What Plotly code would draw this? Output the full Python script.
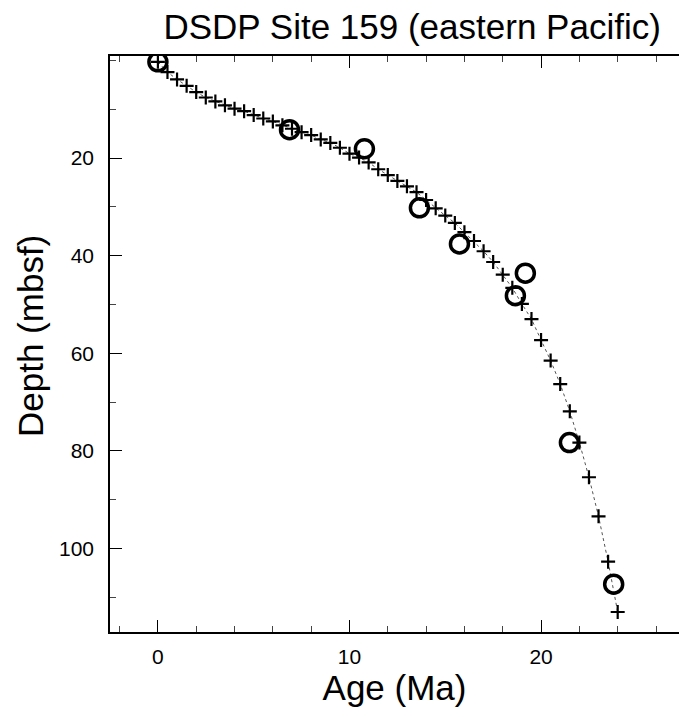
import plotly.graph_objects as go

# Age-depth model points (crosses)
model_age = [0.0, 0.5, 1.0, 1.5, 2.0, 2.5, 3.0, 3.5, 4.0, 4.5, 5.0, 5.5, 6.0, 6.5,
             7.0, 7.5, 8.0, 8.5, 9.0, 9.5, 10.0, 10.5, 11.0, 11.5, 12.0, 12.5,
             13.0, 13.5, 14.0, 14.5, 15.0, 15.5, 16.0, 16.5, 17.0, 17.5, 18.0,
             18.5, 19.0, 19.5, 20.0, 20.5, 21.0, 21.5, 22.0, 22.5, 23.0, 23.5, 24.0]
model_depth = [0.3, 2.4, 3.9, 5.2, 6.5, 7.6, 8.4, 9.2, 9.9, 10.4, 11.2, 11.9, 12.5, 13.3,
               14.0, 14.7, 15.3, 16.2, 16.9, 17.9, 19.1, 19.9, 20.9, 22.3, 23.5, 24.7,
               25.8, 27.0, 28.6, 30.3, 31.8, 33.3, 35.2, 37.0, 39.1, 41.3, 43.9,
               46.6, 49.9, 53.0, 57.3, 61.5, 66.3, 71.9, 78.3, 85.4, 93.4, 102.7, 113.0]

# Datums (open circles)
datum_age = [0.0, 6.87, 10.78, 13.65, 15.74, 18.66, 19.18, 21.48, 23.79]
datum_depth = [0.3, 14.2, 18.1, 30.2, 37.6, 48.2, 43.6, 78.3, 107.3]

x_ticks = [0, 10, 20]
y_ticks = [20, 40, 60, 80, 100]
y_minor = [0, 10, 30, 50, 70, 90, 110]

FONT = "Liberation Sans, Arial, Helvetica, sans-serif"

fig = go.Figure()
fig.add_trace(go.Scatter(x=model_age, y=model_depth, mode="lines",
                         line=dict(color="#555555", width=1, dash="3px,3px"),
                         hoverinfo="skip", showlegend=False))
fig.add_trace(go.Scatter(x=model_age, y=model_depth, mode="markers",
                         marker=dict(symbol="cross-thin", size=10,
                                     line=dict(color="black", width=2.2)),
                         showlegend=False))
fig.add_trace(go.Scatter(x=datum_age, y=datum_depth, mode="markers",
                         marker=dict(symbol="circle-open", size=18,
                                     color="black",
                                     line=dict(color="black", width=3.5)),
                         showlegend=False))

fig.update_layout(
    width=679, height=717,
    margin=dict(l=110, r=0, t=56, b=85),
    paper_bgcolor="white", plot_bgcolor="white",
    font=dict(family=FONT, color="black", size=21),
    title=dict(text="DSDP Site 159 (eastern Pacific)", x=0.607, xref="container",
               xanchor="center", y=0.963, yref="container", yanchor="middle",
               font=dict(size=35, family=FONT, color="black")),
    annotations=[dict(text="Depth (mbsf)", textangle=-90, showarrow=False,
                      xref="paper", yref="paper",
                      x=(30 - 110) / 569, y=(632 - 336) / 576,
                      xanchor="center", yanchor="middle",
                      font=dict(size=35, family=FONT, color="black"))],
)
fig.update_xaxes(
    range=[-2.5, 27.2], showgrid=False, zeroline=False,
    showline=True, linecolor="black", linewidth=1.5, mirror="ticks",
    ticks="inside", ticklen=12, tickwidth=1.2, tickcolor="black",
    tickmode="array", tickvals=x_ticks, ticktext=[str(v) for v in x_ticks],
    tickfont=dict(size=21), ticklabelstandoff=5,
    minor=dict(dtick=2, tick0=0, ticklen=6, tickwidth=1, tickcolor="#444444", ticks="inside"),
    title=dict(text="Age (Ma)", font=dict(size=35), standoff=4),
)
fig.update_yaxes(
    range=[117.1, -0.9], showgrid=False, zeroline=False,
    showline=True, linecolor="black", linewidth=1.5, mirror=False,
    ticks="inside", ticklen=12, tickwidth=1.2, tickcolor="black",
    tickmode="array", tickvals=y_ticks, ticktext=[str(v) for v in y_ticks],
    tickfont=dict(size=21), ticklabelstandoff=10,
    minor=dict(tickmode="array", tickvals=y_minor, ticklen=6, tickwidth=1,
               tickcolor="#444444", ticks="inside"),
)

fig.write_html(
    "out.html",
    config={"displayModeBar": False},
    post_script="document.body.style.margin='0';document.documentElement.style.overflow='hidden';document.body.style.overflow='hidden';",
)
